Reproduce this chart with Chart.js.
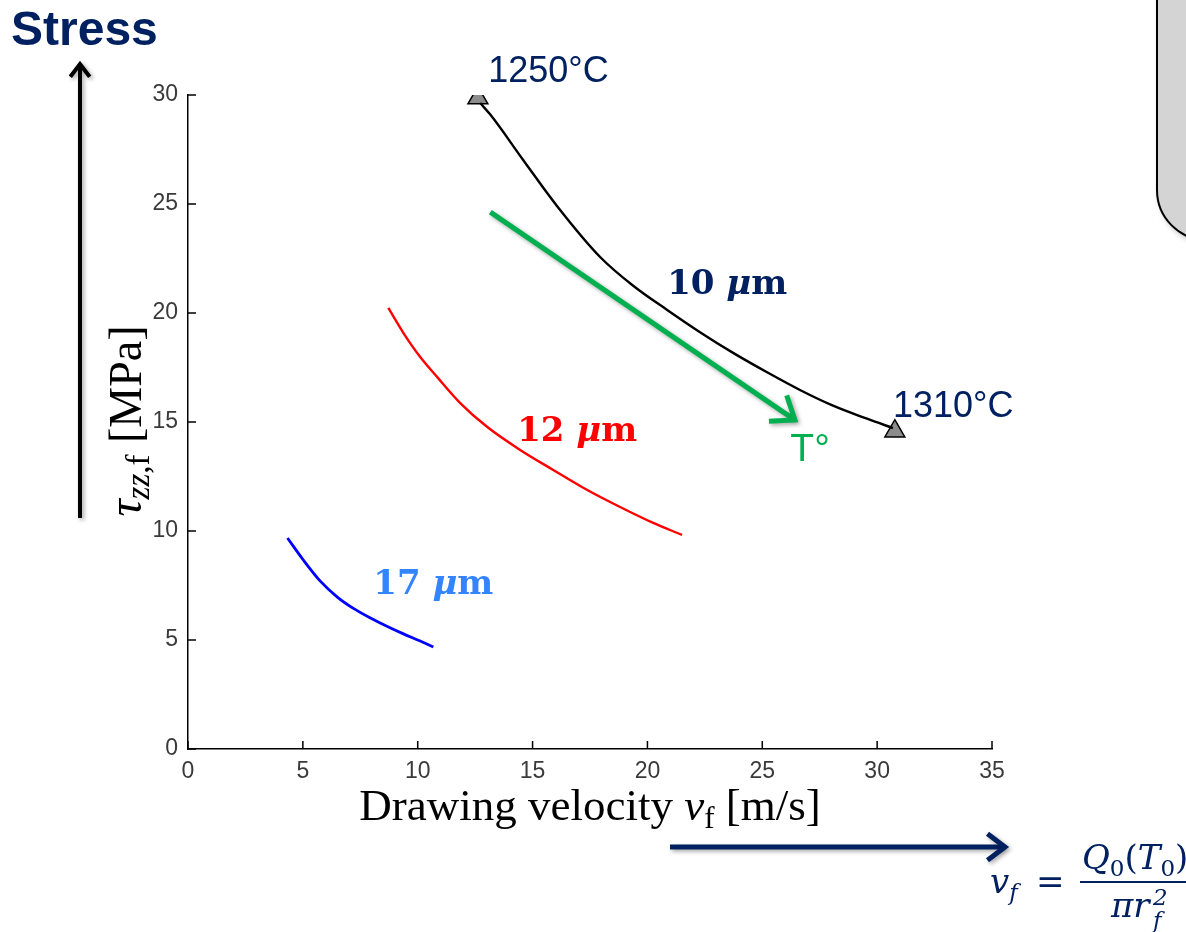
<!DOCTYPE html>
<html lang="en">
<head>
<meta charset="UTF-8">
<title>Stress vs drawing velocity</title>
<script src="https://cdn.jsdelivr.net/npm/chart.js"></script>
<style>
  html, body { margin: 0; padding: 0; background: #fff; }
  #wrap { width: 1186px; height: 932px; }
</style>
</head>
<body>
<div id="wrap"><canvas id="chart" width="1186" height="932"></canvas></div>
<script>
// values: drawing velocity [m/s] vs stress [MPa]
const vel10 = [12.72, 13.16, 14.59, 16.07, 17.94, 19.38, 20.86, 22.29, 23.73, 25.21, 26.64, 28.08, 29.56, 30.69];
const tau10 = [29.63, 29.10, 27.02, 24.90, 22.57, 21.25, 20.14, 19.12, 18.17, 17.28, 16.47, 15.75, 15.15, 14.72];

const vel12 = [8.72, 9.38, 10.11, 10.85, 11.85, 13.03, 14.46, 15.90, 17.38, 18.81, 20.25, 21.51];
const tau12 = [20.23, 19.08, 17.98, 17.06, 15.87, 14.77, 13.72, 12.80, 11.88, 11.10, 10.37, 9.82];

const vel17 = [4.33, 5.02, 5.76, 6.50, 7.20, 7.94, 8.68, 9.38, 10.11, 10.68];
const tau17 = [9.68, 8.67, 7.70, 6.97, 6.45, 6.01, 5.62, 5.28, 4.95, 4.68];

// temperature end markers (1250 and 1310 C) on the 10 um curve
const endVel = [12.62, 30.77];
const endTau = [29.86, 14.58];

const xTicks = [0, 5, 10, 15, 20, 25, 30, 35];
const yTicks = [0, 5, 10, 15, 20, 25, 30];

const NAVY = '#002060';
const GREEN = '#00b050';

function pts(xs, ys) {
  return xs.map((x, i) => ({ x: x, y: ys[i] }));
}

function runs(ctx, list, x, y, align) {
  let w = 0;
  list.forEach(r => { ctx.font = r.font; r.w = ctx.measureText(r.t).width; w += r.w; });
  let cx = align === 'center' ? x - w / 2 : x;
  list.forEach(r => {
    ctx.font = r.font;
    ctx.fillText(r.t, cx, y + (r.dy || 0));
    cx += r.w;
  });
}

function arrow(ctx, x0, y0, x1, y1, color, width, head) {
  const a = Math.atan2(y1 - y0, x1 - x0);
  ctx.save();
  ctx.strokeStyle = color;
  ctx.lineWidth = width;
  ctx.lineCap = 'butt';
  ctx.lineJoin = 'miter';
  ctx.shadowColor = 'rgba(0,0,0,0.35)';
  ctx.shadowBlur = 4;
  ctx.shadowOffsetX = 2;
  ctx.shadowOffsetY = 2;
  ctx.beginPath();
  ctx.moveTo(x0, y0);
  ctx.lineTo(x1 - Math.cos(a) * width * 0.6, y1 - Math.sin(a) * width * 0.6);
  ctx.stroke();
  ctx.beginPath();
  ctx.moveTo(x1 - head * Math.cos(a - 0.65), y1 - head * Math.sin(a - 0.65));
  ctx.lineTo(x1, y1);
  ctx.lineTo(x1 - head * Math.cos(a + 0.65), y1 - head * Math.sin(a + 0.65));
  ctx.stroke();
  ctx.restore();
}

const decor = {
  id: 'decor',
  afterDraw(chart) {
    const ctx = chart.ctx;
    const xs = chart.scales.x, ys = chart.scales.y;
    const px = v => xs.getPixelForValue(v);
    const py = v => ys.getPixelForValue(v);
    ctx.save();

    // inward tick marks
    ctx.strokeStyle = '#000';
    ctx.lineWidth = 1.5;
    ctx.beginPath();
    xTicks.forEach(t => { ctx.moveTo(px(t), py(0)); ctx.lineTo(px(t), py(0) - 8); });
    yTicks.forEach(t => { ctx.moveTo(px(0), py(t)); ctx.lineTo(px(0) + 8, py(t)); });
    ctx.stroke();

    // axis titles
    ctx.fillStyle = '#000';
    ctx.textBaseline = 'alphabetic';
    const serif = '"Liberation Serif", "DejaVu Serif", serif';
    runs(ctx, [
      { t: 'Drawing velocity ', font: '45px ' + serif },
      { t: 'v', font: 'italic 45px ' + serif },
      { t: 'f', font: '31px ' + serif, dy: 8 },
      { t: ' [m/s]', font: '45px ' + serif }
    ], (xs.left + xs.right) / 2, 820, 'center');

    ctx.save();
    ctx.translate(141, 421);
    ctx.rotate(-Math.PI / 2);
    runs(ctx, [
      { t: '\u03c4', font: 'italic 48px ' + serif },
      { t: 'zz', font: 'italic 33px ' + serif, dy: 8 },
      { t: ',f', font: '33px ' + serif, dy: 8 },
      { t: ' [MPa]', font: '46px ' + serif }
    ], 0, 0, 'center');
    ctx.restore();

    // curve labels
    const bold = '"DejaVu Serif", serif';
    ctx.textBaseline = 'middle';
    [[NAVY, 23.47, 21.28, '10 '], ['#ff0000', 16.94, 14.54, '12 '], ['#3385ff', 10.68, 7.52, '17 ']].forEach(l => {
      ctx.fillStyle = l[0];
      runs(ctx, [
        { t: l[3], font: 'bold 34px ' + bold },
        { t: '\u03bc', font: 'italic bold 34px ' + bold },
        { t: 'm', font: 'bold 34px ' + bold }
      ], px(l[1]), py(l[2]), 'center');
    });

    const sans = '"Liberation Sans", Arial, sans-serif';
    ctx.fillStyle = NAVY;
    ctx.font = '36px ' + sans;
    ctx.textAlign = 'left';
    ctx.fillText('1250\u00b0C', px(13.07), py(31.06));
    ctx.fillText('1310\u00b0C', px(30.69), py(15.69));

    // temperature arrow
    arrow(ctx, px(13.16), py(24.63), px(26.42), py(15.09), GREEN, 5, 26);
    ctx.fillStyle = GREEN;
    ctx.font = '39px ' + sans;
    ctx.textAlign = 'center';
    ctx.fillText('T\u00b0', px(27.08), py(13.72));

    // slide decorations: Stress arrow, velocity arrow, formula, box
    ctx.textAlign = 'left';
    ctx.textBaseline = 'alphabetic';
    ctx.fillStyle = NAVY;
    ctx.font = 'bold 48px ' + sans;
    ctx.fillText('Stress', 11, 45);
    arrow(ctx, 80, 518, 80, 64, '#000', 4, 16);
    arrow(ctx, 670, 847, 1005, 847, NAVY, 5, 22);

    const math = '"DejaVu Serif", serif';
    ctx.fillStyle = NAVY;
    runs(ctx, [
      { t: 'v', font: 'italic 34px ' + math },
      { t: 'f', font: 'italic 23px ' + math, dy: 7 }
    ], 990, 893, 'left');
    ctx.font = '34px ' + math;
    ctx.fillText('=', 1036, 893);
    runs(ctx, [
      { t: 'Q', font: 'italic 34px ' + math },
      { t: '0', font: '23px ' + math, dy: 7 },
      { t: '(', font: '34px ' + math },
      { t: 'T', font: 'italic 34px ' + math },
      { t: '0', font: '23px ' + math, dy: 7 },
      { t: ')', font: '34px ' + math }
    ], 1082, 869, 'left');
    ctx.fillRect(1080, 881, 120, 2);
    runs(ctx, [
      { t: '\u03c0r', font: 'italic 34px ' + math }
    ], 1111, 917, 'left');
    ctx.font = 'italic 23px ' + math;
    ctx.fillText('2', 1153, 905);
    ctx.fillText('f', 1153, 928);

    ctx.save();
    ctx.shadowColor = 'rgba(0,0,0,0.35)';
    ctx.shadowBlur = 6;
    ctx.shadowOffsetX = 3;
    ctx.shadowOffsetY = 3;
    ctx.fillStyle = '#d4d4d4';
    ctx.beginPath();
    ctx.moveTo(1157, -10);
    ctx.lineTo(1157, 190);
    ctx.arcTo(1157, 240, 1207, 240, 50);
    ctx.lineTo(1220, 240);
    ctx.lineTo(1220, -10);
    ctx.closePath();
    ctx.fill();
    ctx.restore();
    ctx.strokeStyle = '#000';
    ctx.lineWidth = 2;
    ctx.beginPath();
    ctx.moveTo(1157, -10);
    ctx.lineTo(1157, 190);
    ctx.arcTo(1157, 240, 1207, 240, 50);
    ctx.lineTo(1220, 240);
    ctx.stroke();

    ctx.restore();
  }
};

const tickFont = { family: '"Liberation Sans", Arial, sans-serif', size: 23 };

new Chart(document.getElementById('chart'), {
  type: 'scatter',
  data: {
    datasets: [
      { label: '10 um', data: pts(vel10, tau10), showLine: true, borderColor: '#000', borderWidth: 2.4, pointRadius: 0, cubicInterpolationMode: 'monotone' },
      { label: '12 um', data: pts(vel12, tau12), showLine: true, borderColor: '#ff0000', borderWidth: 2.4, pointRadius: 0, cubicInterpolationMode: 'monotone' },
      { label: '17 um', data: pts(vel17, tau17), showLine: true, borderColor: '#0000ff', borderWidth: 2.8, pointRadius: 0, cubicInterpolationMode: 'monotone' },
      { label: 'T', data: pts(endVel, endTau), pointStyle: 'triangle', pointRadius: 11.5, backgroundColor: '#8c8c8c', borderColor: '#000', borderWidth: 1.5 }
    ]
  },
  options: {
    responsive: false,
    animation: false,
    layout: { padding: { left: 100, top: 95, right: 194, bottom: 0 } },
    plugins: { legend: { display: false }, tooltip: { enabled: false } },
    scales: {
      x: {
        type: 'linear', min: 0, max: 35,
        ticks: { stepSize: 5, font: tickFont, color: '#3a3a3a', padding: 9 },
        grid: { display: false, drawTicks: false },
        border: { display: true, color: '#000', width: 1.5 },
        afterFit(s) { s.height = 183; }
      },
      y: {
        type: 'linear', min: 0, max: 30,
        ticks: { stepSize: 5, font: tickFont, color: '#3a3a3a', padding: 10 },
        grid: { display: false, drawTicks: false },
        border: { display: true, color: '#000', width: 1.5 },
        afterFit(s) { s.width = 88; }
      }
    }
  },
  plugins: [decor]
});
</script>
</body>
</html>
